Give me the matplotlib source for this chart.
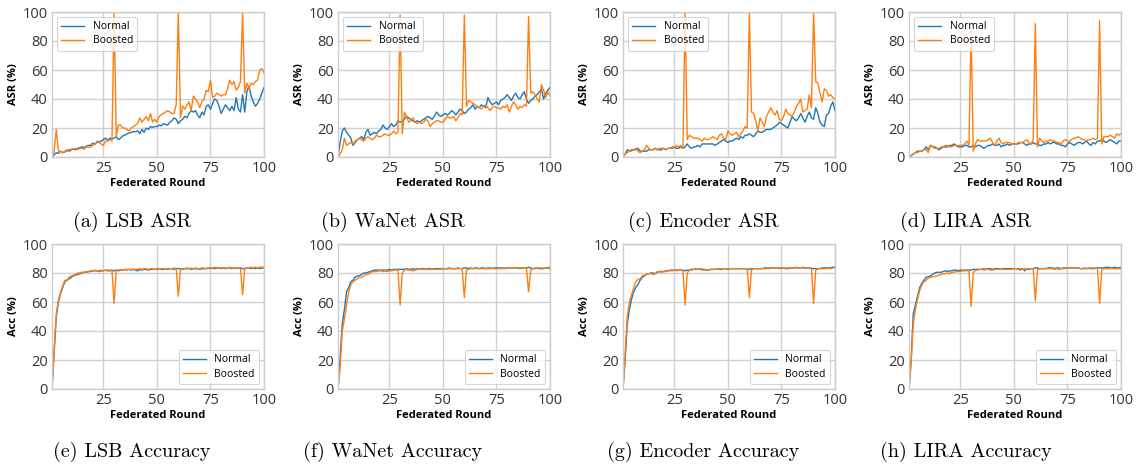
import numpy as np
import matplotlib
matplotlib.use('Agg')
import matplotlib.pyplot as plt

rounds = np.arange(1, 101)

# ---- ASR (%) per round ----
lsb_asr_normal = [0, 1.5, 3, 2.5, 4, 3, 3.5, 4.5, 4, 5,
                  5.5, 5, 6, 6.5, 7, 6.5, 7.5, 8, 8, 9.5,
                  9, 10, 10.5, 11, 12, 13, 11.5, 13, 12.5, 13,
                  14, 12, 13, 14.5, 15, 16, 16.5, 17, 17.5, 17.5,
                  18, 16, 19, 17, 20, 19, 21, 20.5, 21, 21,
                  22, 21.5, 23, 22.5, 22, 24, 25, 27, 26, 23,
                  25, 26, 28, 27, 30, 32, 31, 32, 29, 27,
                  31, 29, 35, 36, 33, 37, 40, 39, 35, 30,
                  33, 36, 34, 32, 35, 32, 41, 33, 31, 43,
                  31, 45, 49, 42, 38, 35, 37, 40, 44, 48]
lsb_asr_boosted = [0, 4, 19, 4, 4, 3, 4, 5, 5, 5.5,
                   5.5, 6, 5, 6, 6, 5.5, 7, 6.5, 7, 8,
                   8.5, 11, 10, 9, 8, 11, 11, 12, 11, 100,
                   14, 22, 22, 20, 20, 19, 18, 20, 21, 22,
                   23, 27, 24, 26, 28, 25, 30, 24, 26, 24,
                   28, 29, 30, 31, 32, 31, 30, 30, 36, 100,
                   27, 35, 33, 36, 38, 32, 42, 40, 38, 34,
                   38, 40, 46, 45, 53, 41, 42, 44, 43, 42,
                   43, 43, 47, 53, 50, 52, 46, 48, 52, 100,
                   44, 51, 47, 51, 50, 52, 53, 60, 61, 58]
wanet_asr_normal = [0, 10, 18, 20, 17, 15, 13, 8, 10, 12,
                    13, 14, 12, 17, 19, 15, 16, 17, 16, 18,
                    19, 22, 20, 19, 21, 23, 21, 22, 25, 24,
                    25, 26, 28, 27, 26, 25, 24, 25, 24, 25,
                    26, 27, 28, 27, 26, 28, 31, 29, 28, 29,
                    30, 29, 30, 32, 31, 29, 31, 33, 32, 30,
                    31, 33, 34, 36, 33, 35, 34, 36, 35, 34,
                    41, 38, 36, 37, 38, 36, 39, 40, 41, 43,
                    41, 39, 42, 44, 41, 40, 43, 45, 40, 37,
                    39, 40, 42, 43, 45, 47, 40, 44, 46, 48]
wanet_asr_boosted = [0, 2, 5, 13, 8, 9, 10, 9, 11, 12,
                     13, 12, 11, 13, 14, 13, 12, 13, 15, 14,
                     14, 15, 16, 15, 15, 16, 18, 16, 17, 98,
                     16, 31, 28, 24, 25, 27, 24, 23, 24, 23,
                     24, 26, 25, 21, 23, 24, 25, 25, 24, 24,
                     26, 28, 27, 27, 28, 25, 27, 30, 29, 98,
                     35, 39, 38, 37, 36, 35, 34, 33, 35, 36,
                     34, 32, 34, 35, 34, 34, 33, 35, 34, 36,
                     31, 35, 38, 36, 33, 35, 34, 36, 35, 97,
                     44, 45, 43, 40, 38, 50, 46, 41, 45, 42]
encoder_asr_normal = [0, 2, 5, 4, 5, 5, 5, 6, 4, 4,
                      4, 4, 5, 5, 5, 6, 5, 5, 5, 6,
                      5, 6, 6, 6, 7, 6, 6, 7, 6, 7,
                      9, 7, 6, 7, 7, 8, 7, 9, 9, 9,
                      9, 9, 9, 8, 9, 10, 11, 12, 11, 10,
                      11, 11, 12, 13, 12, 14, 13, 15, 15, 16,
                      15, 14, 16, 18, 17, 17, 18, 19, 19, 19,
                      20, 21, 22, 24, 23, 22, 21, 20, 24, 28,
                      26, 25, 27, 30, 27, 24, 28, 31, 27, 26,
                      34, 30, 24, 22, 21, 29, 30, 35, 38, 32]
encoder_asr_boosted = [0, 2, 3, 4, 4, 5, 6, 4, 3, 4,
                       5, 8, 6, 5, 5, 6, 5, 6, 6, 6,
                       5, 6, 6, 7, 7, 8, 7, 8, 6, 100,
                       12, 15, 14, 13, 13, 13, 12, 11, 13, 12,
                       12, 13, 14, 13, 12, 15, 16, 13, 12, 18,
                       16, 15, 16, 17, 14, 16, 18, 21, 20, 100,
                       31, 30, 25, 18, 27, 24, 21, 28, 31, 34,
                       31, 29, 32, 26, 25, 28, 33, 30, 29, 28,
                       31, 35, 37, 40, 31, 32, 33, 43, 34, 100,
                       52, 51, 44, 38, 47, 46, 42, 43, 41, 40]
lira_asr_normal = [0, 1, 2, 3, 4, 4, 4, 5, 7, 5,
                   8, 7, 7, 6, 5, 6, 7, 7, 7, 8,
                   8, 9, 8, 7, 7, 7, 8, 8, 7, 7,
                   8, 7, 8, 8, 7, 6, 7, 8, 8, 9,
                   8, 8, 9, 7, 8, 8, 9, 8, 9, 9,
                   9, 9, 10, 10, 9, 8, 9, 9, 10, 9,
                   9, 8, 8, 9, 9, 10, 9, 10, 10, 9,
                   9, 8, 8, 7, 9, 10, 9, 8, 9, 10,
                   10, 9, 10, 11, 9, 8, 10, 9, 11, 11,
                   12, 11, 10, 11, 12, 11, 10, 9, 11, 11]
lira_asr_boosted = [0, 1, 2, 3, 3, 4, 4, 5, 5, 3,
                    8, 7, 6, 6, 6, 7, 7, 8, 8, 7,
                    7, 8, 8, 8, 8, 8, 9, 11, 8, 88,
                    4, 9, 12, 11, 11, 11, 11, 12, 13, 10,
                    8, 11, 13, 10, 9, 10, 10, 10, 9, 9,
                    9, 10, 10, 10, 11, 12, 10, 9, 12, 92,
                    7, 13, 11, 10, 11, 11, 12, 11, 11, 10,
                    10, 9, 11, 12, 11, 11, 12, 13, 13, 14,
                    13, 12, 12, 11, 12, 12, 13, 12, 13, 94,
                    9, 14, 14, 14, 15, 14, 13, 16, 15, 16]

# ---- clean accuracy (%) per round ----
lsb_acc_normal = [0, 25, 50, 60, 66, 70, 74, 75, 76, 77,
                  78, 78.5, 79, 79.5, 80, 80.5, 80.5, 81, 81, 81.5,
                  81.5, 81.5, 81, 81.5, 81.5, 82, 81.5, 81.5, 82, 81.5,
                  82, 81.5, 82, 82, 82.5, 82, 82.5, 82, 82.5, 82,
                  81.5, 82.5, 82, 82.5, 82.5, 82, 82.5, 82.5, 82.5, 82.5,
                  83, 82.5, 82.5, 83, 82.5, 83, 83, 82.5, 83, 83,
                  83, 82.5, 83, 83, 83, 82.5, 83, 83, 83, 82.5,
                  83, 83, 83, 83.5, 83, 83.5, 83, 83.5, 83.5, 83,
                  83.5, 83, 83.5, 83.5, 83, 83.5, 83, 83.5, 83.5, 83,
                  83, 83.5, 83.5, 83, 83.5, 83, 83.5, 83, 83.5, 83.5]
lsb_acc_boosted = [0, 27, 52, 61, 67, 71, 75, 75, 77, 78,
                   78.5, 79, 80, 80, 80.5, 80.5, 81, 81, 81.5, 81.5,
                   82, 81.5, 81.5, 82, 81.5, 82, 82, 82, 82, 59,
                   82, 82, 82.5, 82, 82.5, 82.5, 82.5, 82.5, 82.5, 82.5,
                   82.5, 83, 82.5, 83, 83, 82.5, 83, 83, 82.5, 83,
                   83, 83, 83, 83, 83, 83, 83, 83.5, 83, 64,
                   83, 83, 83, 83.5, 83, 83.5, 83, 83.5, 83, 83,
                   83.5, 83.5, 83, 83.5, 83.5, 83.5, 84, 83.5, 83.5, 83.5,
                   83.5, 83.5, 83.5, 84, 83.5, 83.5, 83.5, 83.5, 83.5, 65,
                   83, 83.5, 83.5, 84, 83.5, 84, 83.5, 84, 84, 84]
wanet_acc_normal = [0, 22, 45, 55, 67, 70, 74, 75, 77, 78,
                    78, 79, 80, 80, 80.5, 81, 81.5, 82, 82, 82,
                    82, 82, 82, 82, 82.5, 82, 82.5, 82.5, 82.5, 82.5,
                    82.5, 82.5, 83, 82.5, 82.5, 83, 82.5, 83, 82.5, 83,
                    83, 82.5, 83, 83, 82.5, 83, 83, 83, 83, 83,
                    83, 83, 83.5, 83, 83, 83, 83.5, 83, 83, 83.5,
                    83.5, 83, 83.5, 83, 83.5, 83.5, 83, 83.5, 83.5, 83,
                    83.5, 83.5, 83, 83.5, 83.5, 83.5, 83.5, 83.5, 83, 83.5,
                    83.5, 83.5, 83.5, 83.5, 83.5, 83, 83.5, 83.5, 83.5, 84,
                    83.5, 83, 83, 83.5, 83, 83, 83, 83.5, 83.5, 83]
wanet_acc_boosted = [0, 15, 40, 48, 58, 67, 72, 74, 75, 76,
                     77, 77, 78, 79, 79, 80, 81, 81, 81, 81.5,
                     81.5, 81, 81.5, 81, 81.5, 81.5, 82, 82, 82, 58,
                     80, 82, 82.5, 82, 82, 81.5, 82, 82.5, 82.5, 82.5,
                     82.5, 82.5, 82.5, 82.5, 82.5, 82.5, 82.5, 82.5, 82.5, 83,
                     83, 83, 83, 83, 83, 83, 83, 83, 83, 63,
                     82, 82.5, 83, 83, 83, 83, 83, 83, 83, 83,
                     83, 83, 83.5, 83, 83, 83, 83, 83, 83.5, 83.5,
                     83.5, 83.5, 83.5, 83.5, 83.5, 83.5, 83.5, 83.5, 83.5, 67,
                     82, 83, 83.5, 83.5, 83.5, 83.5, 83.5, 83.5, 84, 84]
encoder_acc_normal = [0, 20, 45, 55, 62, 67, 70, 72, 75, 77,
                      78, 79, 79.5, 80, 80, 79.5, 80.5, 81, 81, 81,
                      81.5, 81.5, 82, 82, 82, 82, 82, 82, 82, 81.5,
                      82, 82, 82.5, 82.5, 83, 82.5, 83, 82.5, 82.5, 82,
                      82, 82.5, 82.5, 82.5, 83, 82.5, 82.5, 83, 83, 82.5,
                      83, 83, 83, 83, 83, 83, 83, 83, 82.5, 82.5,
                      83, 83, 83, 83, 83, 83, 83.5, 83.5, 83, 83.5,
                      83.5, 83.5, 83.5, 83, 83.5, 83.5, 83, 83, 83.5, 83.5,
                      83.5, 84, 83.5, 83.5, 84, 83.5, 83.5, 83.5, 83, 83,
                      83, 83, 83, 83.5, 83.5, 83.5, 83.5, 83.5, 84, 84]
encoder_acc_boosted = [0, 25, 50, 60, 65, 70, 74, 75.5, 76, 78,
                       78.5, 79, 79.5, 79.5, 79, 79.5, 81, 81, 80.5, 81,
                       81, 81.5, 81.5, 81.5, 82, 81.5, 82, 82, 81.5, 58,
                       80, 82, 82, 82.5, 82.5, 82.5, 82.5, 82, 82, 82,
                       82, 82.5, 82.5, 82.5, 83, 83, 83, 83, 83, 83,
                       83, 83, 83, 83, 83, 83, 83, 83, 83, 63,
                       82, 83, 83, 83, 83, 83, 83, 83, 83.5, 83.5,
                       83.5, 83.5, 83.5, 83.5, 83.5, 83.5, 83.5, 83.5, 83.5, 83.5,
                       83.5, 83.5, 83.5, 83.5, 83.5, 83.5, 83.5, 83.5, 83.5, 59,
                       82, 83, 83, 83, 83, 83, 83.5, 83, 83.5, 83.5]
lira_acc_normal = [0, 20, 52, 58, 64, 70, 73, 75, 77, 77.5,
                   78, 79, 80, 80.5, 80.5, 80.5, 81, 81.5, 81, 81.5,
                   81.5, 82, 82, 81.5, 82, 82, 82, 82, 82, 82,
                   82.5, 82.5, 82.5, 82.5, 82.5, 83, 82.5, 83, 83, 82.5,
                   83, 83, 83, 82.5, 83, 83, 83, 83, 83, 83,
                   83, 83, 82, 83, 81.5, 83, 82.5, 83, 83, 83.5,
                   83.5, 83, 83, 83, 83, 83.5, 83.5, 83.5, 83, 83.5,
                   83.5, 83, 83.5, 83.5, 83.5, 83.5, 83.5, 83.5, 83.5, 83.5,
                   83, 83, 83.5, 83, 83.5, 83, 83, 83.5, 83.5, 83.5,
                   83.5, 83.5, 84, 84, 83.5, 83.5, 84, 83.5, 83.5, 84]
lira_acc_boosted = [0, 18, 45, 55, 62, 68, 72, 74, 75, 76.5,
                    77, 77.5, 77.5, 78, 78.5, 79, 79.5, 79.5, 80, 79.5,
                    80.5, 80.5, 81, 81, 81, 81.5, 81.5, 81.5, 81.5, 57,
                    80, 82, 82, 82.5, 82.5, 82, 82.5, 82.5, 82, 82,
                    82.5, 82.5, 82.5, 82.5, 82.5, 82.5, 82.5, 82.5, 82.5, 83,
                    83, 82.5, 83, 82.5, 83, 83, 83, 83, 83, 61,
                    82, 83, 83, 83, 83, 83, 83, 83, 82.5, 83,
                    82.5, 83, 83, 83, 83.5, 83.5, 83.5, 83.5, 83.5, 83.5,
                    83, 83, 83, 83, 83, 83.5, 83.5, 83.5, 83.5, 59,
                    82, 83, 83, 83, 83, 83, 83, 83, 83, 83]

asr_panels = [(lsb_asr_normal, lsb_asr_boosted, '(a) LSB ASR'),
              (wanet_asr_normal, wanet_asr_boosted, '(b) WaNet ASR'),
              (encoder_asr_normal, encoder_asr_boosted, '(c) Encoder ASR'),
              (lira_asr_normal, lira_asr_boosted, '(d) LIRA ASR')]
acc_panels = [(lsb_acc_normal, lsb_acc_boosted, '(e) LSB Accuracy'),
              (wanet_acc_normal, wanet_acc_boosted, '(f) WaNet Accuracy'),
              (encoder_acc_normal, encoder_acc_boosted, '(g) Encoder Accuracy'),
              (lira_acc_normal, lira_acc_boosted, '(h) LIRA Accuracy')]

plt.rcParams['font.family'] = ['Open Sans', 'DejaVu Sans']

W, H = 1139, 467
fig = plt.figure(figsize=(W / 100, H / 100), dpi=100)

lefts = [52, 338, 623, 909]
cap_x = [132, 393, 703, 966]
aw, ah = 212, 145


def style(ax, ylab):
    ax.set_xlim(1, 100)
    ax.set_ylim(0, 100)
    ax.set_xticks([25, 50, 75, 100])
    ax.set_yticks([0, 20, 40, 60, 80, 100])
    ax.grid(True, color='#d0d0d0', linewidth=1.0)
    ax.set_axisbelow(True)
    for s in ax.spines.values():
        s.set_color('#cccccc')
        s.set_linewidth(1.0)
    ax.tick_params(length=0, labelsize=10.5, colors='#333333', pad=3)
    ax.set_xlabel('Federated Round', fontsize=8, fontweight='bold', labelpad=1)
    ax.set_ylabel(ylab, fontsize=8, fontweight='bold', labelpad=3)


for row, (panels, top, ylab, loc, cy) in enumerate([
        (asr_panels, 12, 'ASR (%)', 'upper left', 222),
        (acc_panels, 244, 'Acc (%)', 'lower right', 452)]):
    for i, (normal, boosted, cap) in enumerate(panels):
        ax = fig.add_axes([lefts[i] / W, 1 - (top + ah) / H, aw / W, ah / H])
        ax.plot(rounds, normal, color='#1f77b4', lw=1.0, label='Normal')
        ax.plot(rounds, boosted, color='#ff7f0e', lw=1.0, label='Boosted')
        style(ax, ylab)
        leg = ax.legend(loc=loc, fontsize=7.5, frameon=True, fancybox=True,
                        handlelength=2.2, borderpad=0.4, labelspacing=0.3)
        leg.get_frame().set_edgecolor('#cccccc')
        leg.get_frame().set_linewidth(0.8)
        fig.text(cap_x[i] / W, 1 - cy / H, cap, family='cmr10', fontsize=14.5,
                 ha='center', va='center')

fig.savefig('out.png', dpi=100)
